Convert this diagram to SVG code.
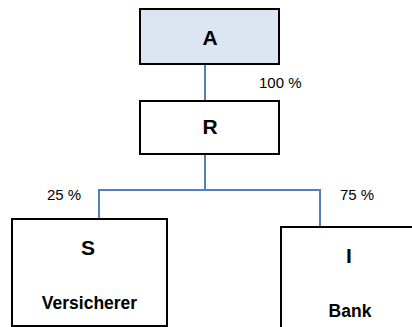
<svg xmlns="http://www.w3.org/2000/svg" width="412" height="327" viewBox="0 0 412 327">
  <style>
    .box { fill: #ffffff; stroke: #000000; stroke-width: 2; }
    .box.top { fill: #dce6f2; }
    .title { font-family: "Liberation Sans", Arial, sans-serif; font-weight: bold; font-size: 21px; text-anchor: middle; fill: #000000; }
    .sub { font-family: "Liberation Sans", Arial, sans-serif; font-weight: bold; font-size: 17.5px; text-anchor: middle; fill: #000000; }
    .pct { font-family: "Liberation Sans", Arial, sans-serif; font-size: 15px; fill: #000000; }
    .link { fill: none; stroke: #4f81bd; stroke-width: 2; }
  </style>

  <!-- connectors -->
  <g id="connectors">
    <line class="link" x1="205" y1="64" x2="205" y2="101"/>
    <polyline class="link" points="205,154 205,190 99,190 99,219"/>
    <polyline class="link" points="205,190 320,190 320,227"/>
    <text class="pct" x="259" y="88">100 %</text>
    <text class="pct" x="47" y="200">25 %</text>
    <text class="pct" x="340" y="200">75 %</text>
  </g>

  <g id="node-A">
    <rect class="box top" x="140" y="9" width="139" height="55"/>
    <text class="title" x="210" y="45">A</text>
  </g>

  <g id="node-R">
    <rect class="box" x="140" y="101" width="139" height="53"/>
    <text class="title" x="210" y="134">R</text>
  </g>

  <g id="node-S">
    <rect class="box" x="12" y="219" width="155" height="107"/>
    <text class="title" x="88" y="255">S</text>
    <text class="sub" x="89.5" y="309">Versicherer</text>
  </g>

  <g id="node-I">
    <rect class="box" x="281" y="227" width="140" height="110"/>
    <text class="title" x="349" y="263">I</text>
    <text class="sub" x="350" y="317">Bank</text>
  </g>
</svg>
